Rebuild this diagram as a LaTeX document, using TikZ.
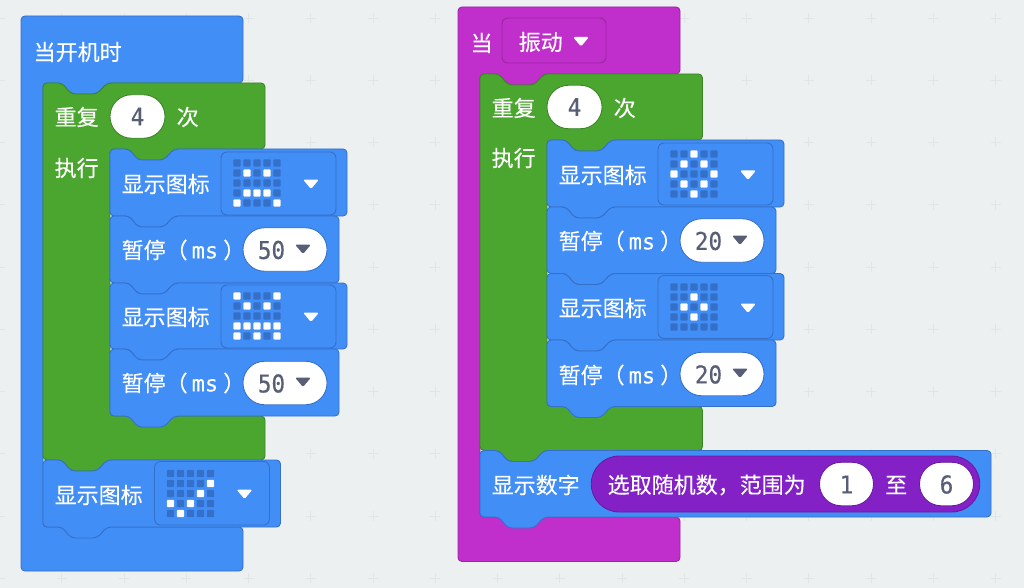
\documentclass[tikz,border=0pt]{standalone}
\usepackage{fontspec}
\setmainfont[FakeBold=0.2]{Noto Sans CJK SC}
\newfontfamily\codefont[FakeBold=0.5, FakeStretch=0.92]{DejaVu Sans Mono}
\newfontfamily\unitfont[FakeBold=0.2]{DejaVu Sans Mono}

\definecolor{bgcol}{HTML}{ECF0F1}
\definecolor{crosscol}{HTML}{E0E5E8}
\definecolor{bluefill}{HTML}{428EF7}
\definecolor{blueedge}{HTML}{3570C8}
\definecolor{greenfill}{HTML}{4BA62F}
\definecolor{greenedge}{HTML}{3C8526}
\definecolor{pinkfill}{HTML}{C02FCB}
\definecolor{pinkedge}{HTML}{9A25A3}
\definecolor{violetfill}{HTML}{8321C6}
\definecolor{violetedge}{HTML}{6A1A9F}
\definecolor{numcol}{HTML}{575E75}

\tikzset{
  blueblock/.style={draw=blueedge, fill=bluefill, line width=0.9pt, rounded corners=4},
  greenblock/.style={draw=greenedge, fill=greenfill, line width=0.9pt, rounded corners=4},
  pinkblock/.style={draw=pinkedge, fill=pinkfill, line width=0.9pt, rounded corners=4},
  iconfield/.style={draw=blueedge, fill=bluefill, line width=0.9pt, rounded corners=6},
  txt/.style={anchor=west, inner sep=0pt, text=white, font=\fontsize{22}{26}\selectfont},
  pill/.style={draw=#1, fill=white, line width=0.9pt, rounded corners=21.5, minimum height=43.5, inner sep=0pt},
  num/.style={inner sep=0pt, text=numcol, font=\fontsize{24.5}{28}\selectfont\codefont},
  ledoff/.style={fill=blueedge, rounded corners=1},
  ledon/.style={fill=white, rounded corners=1},
}

% top edge with the notch, bottom edge with the bump
\newcommand{\topnotch}[2]{(#1,#2) -- ++(19,0) -- ++(9,11) -- ++(26,0) -- ++(10,-11)}
\newcommand{\lowbump}[2]{({#1+64},#2) -- ++(-10,11) -- ++(-26,0) -- ++(-9,-11) -- (#1,#2)}

% style, left, top, right, bottom
\newcommand{\stackblock}[5]{\draw[#1] \topnotch{#2}{#3} -- (#4,#3) -- (#4,#5) -- \lowbump{#2}{#5} -- cycle;}
% style, left, top, right, arm bottom, inner left, lower top, bottom
\newcommand{\loopblock}[8]{\draw[#1] \topnotch{#2}{#3} -- (#4,#3) -- (#4,#5) -- \lowbump{#6}{#5} -- (#6,#7) -- (#4,#7) -- (#4,#8) -- \lowbump{#2}{#8} -- cycle;}
\newcommand{\hatblock}[8]{\draw[#1] (#2,#3) -- (#4,#3) -- (#4,#5) -- \lowbump{#6}{#5} -- (#6,#7) -- (#4,#7) -- (#4,#8) -- (#2,#8) -- cycle;}

% field left, block top, lit cells as col/row
\newcommand{\ledgrid}[3]{
  \foreach \c in {0,...,4} \foreach \r in {0,...,4}
    \fill[ledoff] ({#1+12.3+10*\c},{#2+10.3+10*\r}) rectangle +(7.4,7.4);
  \foreach \c/\r in {#3}
    \fill[ledon] ({#1+12.3+10*\c},{#2+10.3+10*\r}) rectangle +(7.4,7.4);
}
\newcommand{\droptri}[3]{\fill[#3, rounded corners=1.5] ({#1-8},{#2-4.5}) -- ({#1+8},{#2-4.5}) -- (#1,{#2+5}) -- cycle;}
\newcommand{\msunit}{暂停（\hspace{4pt}{\unitfont ms}\hspace{5pt}）}

\begin{document}
\begin{tikzpicture}[x=1pt, y=-1pt]
\useasboundingbox (0,0) rectangle (1024,588);
\fill[bgcol] (0,0) rectangle (1024,588);

% Workspace crosses
\foreach \i in {0,...,16} \foreach \j in {0,...,9}
  \draw[crosscol, line width=0.8pt] ({62.25*\i-0.5-5},{18+62.25*\j}) -- +(10,0) ({62.25*\i-0.5},{18+62.25*\j-5}) -- +(0,10);

% Left stack
\hatblock{blueblock}{21}{16}{243}{83}{43}{527}{571}
\node[txt] (onstart) at (33.5, 52) {当开机时};

\loopblock{greenblock}{43}{83}{265}{149}{110}{416}{460}
\node[txt] (repeatA) at (54.5, 117) {重复};
\node[pill=greenedge, minimum width=55] (countA) at (137.5, 116.5) {};
\node[num] (countAnum) at (137.5, 116.5) {4};
\node[txt] (timesA) at (176.5, 117) {次};
\node[txt] (doA) at (54.5, 168) {执行};

\stackblock{blueblock}{110}{149}{347}{216}
\draw[iconfield] (221,152) rectangle (336,215);
\ledgrid{221}{149}{1/1,3/1,1/3,2/3,3/3,0/4,4/4}
\droptri{311}{184}{white}
\node[txt] (showA) at (121.5, 184) {显示图标};

\stackblock{blueblock}{110}{216}{339}{283}
\node[txt] (pauseA) at (121.5, 250) {\msunit};
\node[pill=blueedge, minimum width=84] (msA) at (285, 249.5) {};
\node[num] (msAnum) at (271.5, 250) {50};
\droptri{303}{249}{numcol}

\stackblock{blueblock}{110}{283}{347}{349}
\draw[iconfield] (221,285) rectangle (336,348);
\ledgrid{221}{282}{0/0,4/0,1/1,3/1,0/3,1/3,2/3,3/3,4/3,0/4,2/4,4/4}
\droptri{311}{317}{white}
\node[txt] (showB) at (121.5, 317) {显示图标};

\stackblock{blueblock}{110}{349}{339}{416}
\node[txt] (pauseB) at (121.5, 383) {\msunit};
\node[pill=blueedge, minimum width=84] (msB) at (285, 383) {};
\node[num] (msBnum) at (271.5, 383.5) {50};
\droptri{303}{382}{numcol}

\stackblock{blueblock}{43}{460}{280.5}{527}
\draw[iconfield] (154.5,461.5) rectangle (269.5,525);
\ledgrid{154.5}{459.5}{4/1,3/2,0/3,2/3,1/4}
\droptri{244.5}{494}{white}
\node[txt] (showC) at (54.5, 495) {显示图标};

% Right stack
\hatblock{pinkblock}{458}{7}{680}{74}{480}{517}{561.5}
\node[txt] (onshake) at (470.5, 43) {当};
\draw[pinkblock, rounded corners=6] (502,18) rectangle (606,63);
\node[txt] (shake) at (518.5, 42) {振动};
\droptri{581}{41.5}{white}

\loopblock{greenblock}{480}{74}{702.5}{140}{547}{406.5}{450.5}
\node[txt] (repeatB) at (491.5, 108) {重复};
\node[pill=greenedge, minimum width=55] (countB) at (574.5, 107) {};
\node[num] (countBnum) at (574.5, 107) {4};
\node[txt] (timesB) at (613.5, 108) {次};
\node[txt] (doB) at (491.5, 158) {执行};

\stackblock{blueblock}{547}{140}{784}{207}
\draw[iconfield] (658,143) rectangle (773,205);
\ledgrid{658}{140}{2/0,1/1,3/1,0/2,4/2,1/3,3/3,2/4}
\droptri{748}{175}{white}
\node[txt] (showD) at (558.5, 175) {显示图标};

\stackblock{blueblock}{547}{207}{776}{273.5}
\node[txt] (pauseD) at (558.5, 241) {\msunit};
\node[pill=blueedge, minimum width=84] (msD) at (722, 240.5) {};
\node[num] (msDnum) at (708.5, 241) {20};
\droptri{740}{240}{numcol}

\stackblock{blueblock}{547}{273.5}{784}{340}
\draw[iconfield] (658,275.5) rectangle (773,338.5);
\ledgrid{658}{273}{2/1,1/2,3/2,2/3}
\droptri{748}{308}{white}
\node[txt] (showE) at (558.5, 308) {显示图标};

\stackblock{blueblock}{547}{340}{776}{406.5}
\node[txt] (pauseE) at (558.5, 375) {\msunit};
\node[pill=blueedge, minimum width=84] (msE) at (722, 374) {};
\node[num] (msEnum) at (708.5, 374.5) {20};
\droptri{740}{373}{numcol}

\stackblock{blueblock}{480}{450.5}{991}{517}
\node[txt] (shownum) at (491.5, 485) {显示数字};
\node[draw=violetedge, fill=violetfill, line width=0.9pt, rounded corners=28, minimum width=388.5, minimum height=56, inner sep=0pt] (randbox) at (785.5, 484) {};
\node[txt] (randtext) at (607.5, 485) {选取随机数，范围为};
\node[pill=violetedge, minimum width=54] (randlow) at (846.5, 484) {};
\node[num] (randlownum) at (846.5, 484.5) {1};
\node[txt] (randto) at (885, 485) {至};
\node[pill=violetedge, minimum width=54] (randhigh) at (946.5, 484) {};
\node[num] (randhighnum) at (946.5, 484.5) {6};
\end{tikzpicture}
\end{document}
